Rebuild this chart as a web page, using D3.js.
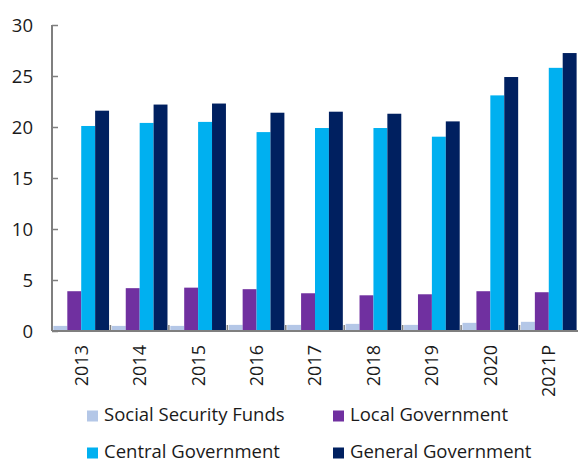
<!DOCTYPE html>
<html>
<head>
<meta charset="utf-8">
<script src="https://cdn.jsdelivr.net/npm/d3@7"></script>
<style>
  html, body { margin: 0; padding: 0; background: #fff; }
  svg { display: block; font-family: "Open Sans", "Noto Sans", sans-serif; }
</style>
</head>
<body>
<svg id="chart" width="579" height="464"></svg>
<script>
// Years on the category axis
const years = ["2013", "2014", "2015", "2016", "2017", "2018", "2019", "2020", "2021P"];

// Series, one value per year
const seriesNames = ["Social Security Funds", "Local Government", "Central Government", "General Government"];
const socialSecurity = [0.5, 0.5, 0.5, 0.6, 0.6, 0.7, 0.6, 0.8, 0.9];
const localGov = [3.9, 4.2, 4.25, 4.1, 3.7, 3.5, 3.6, 3.9, 3.8];
const centralGov = [20.1, 20.4, 20.5, 19.5, 19.9, 19.9, 19.05, 23.1, 25.8];
const generalGov = [21.6, 22.2, 22.3, 21.4, 21.5, 21.3, 20.55, 24.9, 27.25];
const seriesColors = ["#b4c7e7", "#7030a0", "#00b0f0", "#002060"];

const yTicks = [0, 5, 10, 15, 20, 25, 30];

const seriesValues = [socialSecurity, localGov, centralGov, generalGov];
const rows = years.map((yr, i) => ({
  year: yr,
  values: seriesValues.map((s, k) => ({ key: seriesNames[k], value: s[i], color: seriesColors[k] }))
}));

const svg = d3.select("#chart");
const plotLeft = 52, plotRight = 578, plotTop = 25, plotBottom = 331;
const axisColor = "#7f7f7f";
const textColor = "#1a1a1a";

const x = d3.scaleBand().domain(years).range([plotLeft, plotRight]).paddingInner(0).paddingOuter(0);
const inner = d3.scaleBand().domain(seriesNames).range([0, x.bandwidth()]).paddingInner(0).paddingOuter(0.1);
const y = d3.scaleLinear().domain([0, 30]).range([plotBottom, plotTop]);

// Bars
const groups = svg.append("g").selectAll("g")
  .data(rows).join("g")
  .attr("transform", d => `translate(${x(d.year)},0)`);

groups.selectAll("rect")
  .data(d => d.values).join("rect")
  .attr("x", d => inner(d.key))
  .attr("width", inner.bandwidth())
  .attr("y", d => y(d.value))
  .attr("height", d => y(0) - y(d.value))
  .attr("fill", d => d.color);

// Y axis with ticks pointing into the plot
const yAxis = svg.append("g")
  .attr("transform", `translate(${plotLeft},0)`)
  .call(d3.axisRight(y).tickValues(yTicks).tickSize(6).tickFormat(""));
yAxis.select(".domain").remove();
yAxis.selectAll(".tick line").attr("stroke", axisColor).attr("stroke-width", 1.5);
svg.append("line")
  .attr("x1", plotLeft).attr("x2", plotLeft).attr("y1", plotTop).attr("y2", plotBottom)
  .attr("stroke", axisColor).attr("stroke-width", 2);

svg.append("g").selectAll("text")
  .data(yTicks).join("text")
  .attr("x", 33)
  .attr("y", d => y(d))
  .attr("dy", "0.36em")
  .attr("text-anchor", "end")
  .attr("font-size", 18.5)
  .attr("fill", textColor)
  .text(d => d);

// X axis: boundary ticks pointing up
const boundaries = years.slice(1).map(yr => x(yr));
svg.append("g").selectAll("line")
  .data(boundaries).join("line")
  .attr("x1", d => d).attr("x2", d => d)
  .attr("y1", plotBottom - 6).attr("y2", plotBottom)
  .attr("stroke", axisColor).attr("stroke-width", 1.5);
svg.append("line")
  .attr("x1", plotLeft).attr("x2", plotRight).attr("y1", plotBottom).attr("y2", plotBottom)
  .attr("stroke", axisColor).attr("stroke-width", 2);

svg.append("g").selectAll("text")
  .data(years).join("text")
  .attr("transform", d => `translate(${x(d) + x.bandwidth() / 2},345) rotate(-90)`)
  .attr("text-anchor", "end")
  .attr("dy", "0.36em")
  .attr("font-size", 18)
  .attr("fill", textColor)
  .text(d => d);

// Legend, two rows of two
const legendPos = [[87, 421], [333, 421], [87, 458], [333, 458]];
const legend = svg.append("g").selectAll("g")
  .data(seriesNames).join("g")
  .attr("transform", (d, i) => `translate(${legendPos[i][0]},${legendPos[i][1]})`);
legend.append("rect")
  .attr("x", 0).attr("y", -10.5).attr("width", 11).attr("height", 11)
  .attr("fill", (d, i) => seriesColors[i]);
legend.append("text")
  .attr("x", 17).attr("y", 0)
  .attr("font-size", 18.5)
  .attr("fill", textColor)
  .text(d => d);
</script>
</body>
</html>
